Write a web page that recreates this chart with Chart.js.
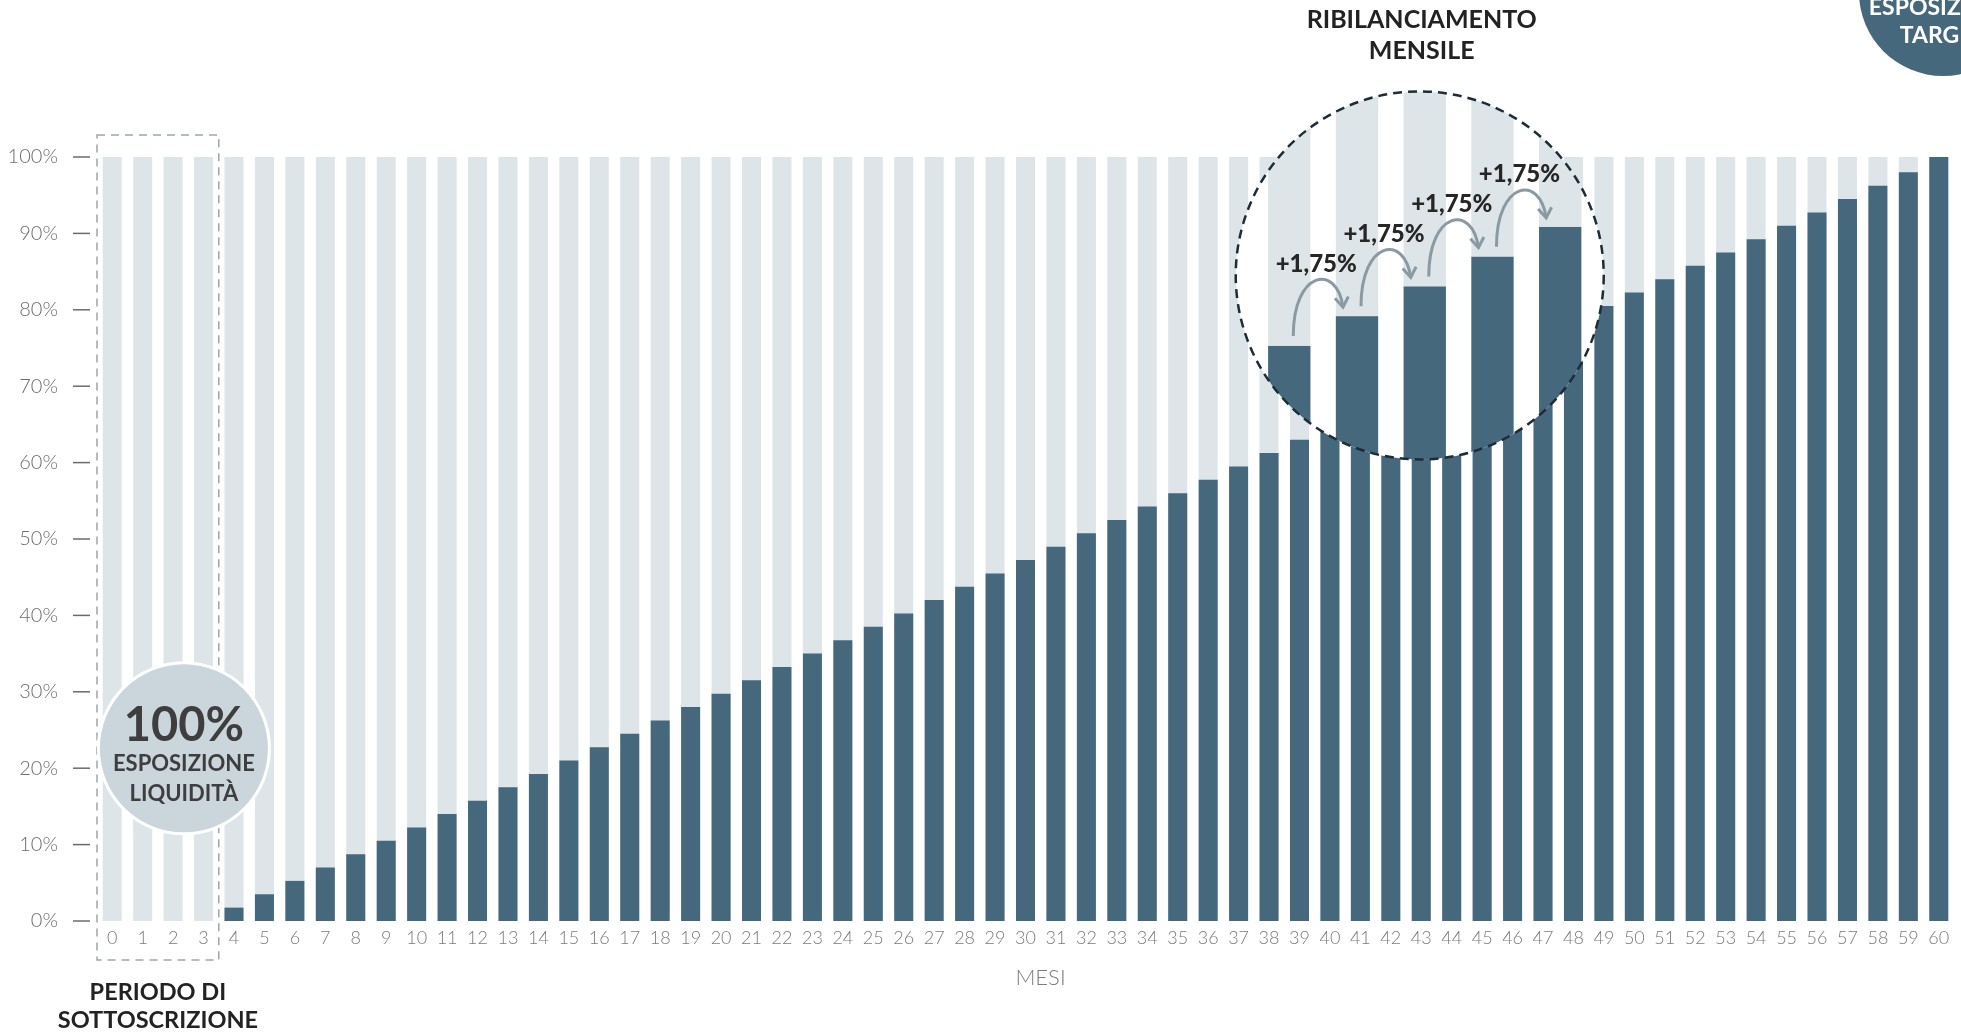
<!DOCTYPE html>
<html>
<head>
<meta charset="utf-8">
<script src="https://cdn.jsdelivr.net/npm/chart.js@4.4.1/dist/chart.umd.min.js"></script>
<style>
  html, body { margin: 0; padding: 0; background: #ffffff; }
  #wrap { width: 1961px; height: 1032px; }
</style>
</head>
<body>
<div id="wrap"><canvas id="grafico" width="1961" height="1032"></canvas></div>
<script>
// mesi 0..60
const mesi = ['0','1','2','3','4','5','6','7','8','9','10','11','12','13','14','15','16','17','18','19','20',
  '21','22','23','24','25','26','27','28','29','30','31','32','33','34','35','36','37','38','39','40',
  '41','42','43','44','45','46','47','48','49','50','51','52','53','54','55','56','57','58','59','60'];

// quota investita (barre scure), in %
const esposizione = [null, null, null, null, 1.75, 3.5, 5.25, 7, 8.75, 10.5, 12.25, 14, 15.75, 17.5, 19.25,
  21, 22.75, 24.5, 26.25, 28, 29.75, 31.5, 33.25, 35, 36.75, 38.5, 40.25, 42, 43.75, 45.5, 47.25,
  49, 50.75, 52.5, 54.25, 56, 57.75, 59.5, 61.25, 63, 64.75, 66.5, 68.25, 70, 71.75, 73.5, 75.25,
  77, 78.75, 80.5, 82.25, 84, 85.75, 87.5, 89.25, 91, 92.75, 94.5, 96.25, 98, 100];

// barre chiare di sfondo (totale)
const totale = [100, 100, 100, 100, 100, 100, 100, 100, 100, 100, 100, 100, 100, 100, 100, 100, 100, 100, 100, 100, 100,
  100, 100, 100, 100, 100, 100, 100, 100, 100, 100, 100, 100, 100, 100, 100, 100, 100, 100, 100, 100,
  100, 100, 100, 100, 100, 100, 100, 100, 100, 100, 100, 100, 100, 100, 100, 100, 100, 100, 100, 100];

const tickY = [0, 10, 20, 30, 40, 50, 60, 70, 80, 90, 100];

// barre ingrandite nella lente e relativo incremento
const mesiLente = [40, 41, 42, 43, 44];
const incremento = '+1,75%';

const SCURO = '#45687d';
const CHIARO = '#dde5e9';
const FONT = 'Lato, "Open Sans", sans-serif';

const decorazioni = {
  id: 'decorazioni',
  afterDatasetsDraw(chart) {
    const { ctx, chartArea, scales: { x, y } } = chart;
    const passo = x.getPixelForValue(1) - x.getPixelForValue(0);
    const barW = chart.getDatasetMeta(0).data[10].width;

    ctx.save();

    // trattini dell'asse y
    ctx.strokeStyle = '#6b6b6b';
    ctx.lineWidth = 1.5;
    tickY.forEach(v => {
      const py = y.getPixelForValue(v);
      ctx.beginPath();
      ctx.moveTo(chartArea.left - 24, py);
      ctx.lineTo(chartArea.left - 7, py);
      ctx.stroke();
    });

    // titolo asse x
    ctx.fillStyle = '#7c7c7c';
    ctx.textAlign = 'center';
    ctx.textBaseline = 'middle';
    ctx.font = '300 22px ' + FONT;
    ctx.fillText('MESI', x.getPixelForValue(30) + 15, 978);

    // riquadro periodo di sottoscrizione
    const rx0 = x.getPixelForValue(0) - passo / 2;
    const rx1 = x.getPixelForValue(3) + passo / 2;
    const ry0 = y.getPixelForValue(100) - 22;
    const ry1 = y.getPixelForValue(0) + 39;
    ctx.setLineDash([8, 6]);
    ctx.strokeStyle = '#9ca6ab';
    ctx.lineWidth = 1.5;
    ctx.strokeRect(rx0, ry0, rx1 - rx0, ry1 - ry0);
    ctx.setLineDash([]);

    ctx.fillStyle = '#222222';
    ctx.font = 'bold 23.5px ' + FONT;
    ctx.fillText('PERIODO DI', (rx0 + rx1) / 2, 992);
    ctx.fillText('SOTTOSCRIZIONE', (rx0 + rx1) / 2, 1020);

    // cerchio 100% liquidità
    const lcx = (rx0 + rx1) / 2 + 26, lcy = y.getPixelForValue(22.6);
    ctx.beginPath();
    ctx.arc(lcx, lcy, 87, 0, Math.PI * 2);
    ctx.fillStyle = '#ffffff';
    ctx.fill();
    ctx.beginPath();
    ctx.arc(lcx, lcy, 84, 0, Math.PI * 2);
    ctx.fillStyle = '#cad5dc';
    ctx.fill();
    ctx.fillStyle = '#3e3e3e';
    ctx.font = 'bold 47px ' + FONT;
    ctx.fillText('100%', lcx, lcy - 22);
    ctx.font = 'bold 22px ' + FONT;
    ctx.fillText('ESPOSIZIONE', lcx, lcy + 16);
    ctx.fillText('LIQUIDITÀ', lcx, lcy + 46);

    // lente di ingrandimento
    const m = 2.225;
    const cx = x.getPixelForValue(42) + passo * 0.95;
    const cy = y.getPixelForValue(84.5);
    const R = 184;
    const sx = x.getPixelForValue(42) - 2.25;
    const sy = y.getPixelForValue(68.9);
    const lente = mesiLente.map(i => {
      const bx = cx + m * (x.getPixelForValue(i) - sx);
      return {
        x: bx,
        w: barW * m,
        top: cy + m * (y.getPixelForValue(esposizione[i]) - sy),
        full: cy + m * (y.getPixelForValue(totale[i]) - sy),
        base: cy + m * (y.getPixelForValue(0) - sy)
      };
    });

    ctx.save();
    ctx.beginPath();
    ctx.arc(cx, cy, R, 0, Math.PI * 2);
    ctx.clip();
    ctx.fillStyle = '#ffffff';
    ctx.fillRect(cx - R, cy - R, R * 2, R * 2);
    lente.forEach(b => {
      ctx.fillStyle = CHIARO;
      ctx.fillRect(b.x - b.w / 2, b.full, b.w, b.top - b.full);
      ctx.fillStyle = SCURO;
      ctx.fillRect(b.x - b.w / 2, b.top, b.w, b.base - b.top);
    });
    ctx.restore();

    ctx.beginPath();
    ctx.arc(cx, cy, R, 0, Math.PI * 2);
    ctx.setLineDash([9, 6]);
    ctx.strokeStyle = '#1d2d37';
    ctx.lineWidth = 2.5;
    ctx.stroke();
    ctx.setLineDash([]);

    // frecce e incrementi
    for (let k = 0; k < lente.length - 1; k++) {
      const a = lente[k], b = lente[k + 1];
      const x0 = a.x + 4, y0 = a.top - 10;
      const x1 = b.x - 14, y1 = b.top - 9;
      ctx.beginPath();
      ctx.moveTo(x0, y0);
      ctx.bezierCurveTo(x0, y0 - 66, x1 - 6, y1 - 44, x1, y1);
      ctx.strokeStyle = '#8a9aa3';
      ctx.lineWidth = 3;
      ctx.stroke();
      const ang = Math.atan2(44, 6);
      ctx.beginPath();
      ctx.moveTo(x1 + 12 * Math.cos(ang - Math.PI + 0.6), y1 + 12 * Math.sin(ang - Math.PI + 0.6));
      ctx.lineTo(x1, y1);
      ctx.lineTo(x1 + 12 * Math.cos(ang - Math.PI - 0.6), y1 + 12 * Math.sin(ang - Math.PI - 0.6));
      ctx.stroke();

      ctx.fillStyle = '#262626';
      ctx.font = '900 24px ' + FONT;
      ctx.fillText(incremento, a.x + 27, a.top - 82);
    }

    ctx.fillStyle = '#222222';
    ctx.font = 'bold 25px ' + FONT;
    ctx.fillText('RIBILANCIAMENTO', cx + 2, 20);
    ctx.fillText('MENSILE', cx + 2, 51);

    // cerchio esposizione target (tagliato dal bordo)
    ctx.beginPath();
    ctx.arc(1943, -8, 84, 0, Math.PI * 2);
    ctx.fillStyle = SCURO;
    ctx.fill();
    ctx.fillStyle = '#ffffff';
    ctx.font = 'bold 47px ' + FONT;
    ctx.fillText('100%', 1943, -34);
    ctx.font = 'bold 23px ' + FONT;
    ctx.fillText('ESPOSIZIONE', 1943, 8);
    ctx.fillText('TARGET', 1943, 36);

    ctx.restore();
  }
};

new Chart(document.getElementById('grafico').getContext('2d'), {
  type: 'bar',
  data: {
    labels: mesi,
    datasets: [
      { label: 'Esposizione', data: esposizione, backgroundColor: SCURO, order: 0 },
      { label: 'Liquidità', data: totale, backgroundColor: CHIARO, order: 1 }
    ]
  },
  options: {
    responsive: false,
    animation: false,
    devicePixelRatio: 1,
    layout: { padding: { top: 157, right: 7, left: 0, bottom: 0 } },
    datasets: { bar: { categoryPercentage: 1, barPercentage: 0.625 } },
    plugins: { legend: { display: false }, tooltip: { enabled: false } },
    scales: {
      x: {
        stacked: true,
        grid: { display: false, drawTicks: false },
        border: { display: false },
        ticks: { color: '#7a7a7a', padding: 6, maxRotation: 0, autoSkip: false, font: { family: FONT, size: 18, weight: 300 } },
        afterFit: s => { s.height = 111; }
      },
      y: {
        stacked: false,
        min: 0,
        max: 100,
        afterBuildTicks: s => { s.ticks = tickY.map(v => ({ value: v })); },
        grid: { display: false, drawTicks: false },
        border: { display: false },
        ticks: { color: '#6e6e6e', padding: 39, callback: v => v + '%', font: { family: FONT, size: 20, weight: 300 } },
        afterFit: s => { s.width = 97; }
      }
    }
  },
  plugins: [decorazioni]
});
</script>
</body>
</html>
